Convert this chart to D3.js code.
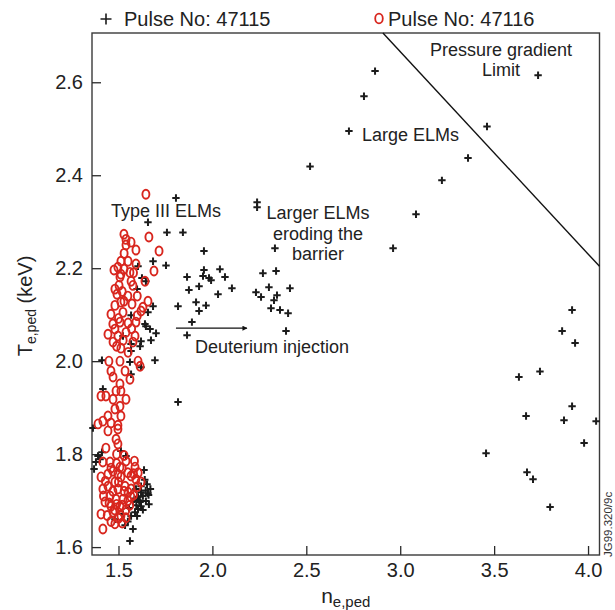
<!DOCTYPE html>
<html><head><meta charset="utf-8">
<script src="https://cdn.jsdelivr.net/npm/d3@7"></script>
<style>
body{margin:0;background:#fff}
svg{display:block;font-family:"Liberation Sans",Arial,Helvetica,sans-serif}
</style>
</head><body>
<svg id="chart" width="615" height="610"></svg>
<script>
// ---- data (n_e,ped , T_e,ped keV) ----
const pulse47115 = [
 [2.866,2.624],[2.807,2.570],[2.727,2.495],[2.520,2.419],[3.462,2.505],[3.734,2.615],[3.361,2.437],[3.222,2.389],[3.084,2.316],[2.962,2.243],
 [3.915,2.110],[3.862,2.065],[3.931,2.039],[3.744,1.978],[3.632,1.966],[3.915,1.903],[3.670,1.882],[3.872,1.873],[4.043,1.871],[3.979,1.824],[3.457,1.802],[3.675,1.761],[3.707,1.746],[3.798,1.686],
 [2.238,2.342],[2.238,2.331],[2.333,2.243],[2.269,2.189],[2.339,2.194],[2.413,2.157],[2.301,2.159],[2.232,2.148],[2.259,2.138],[2.344,2.142],[2.328,2.131],[2.312,2.114],[2.360,2.110],[2.403,2.103],[2.392,2.065],
 [1.806,2.351],[1.758,2.277],[1.843,2.277],[1.955,2.237],[1.753,2.206],[1.865,2.181],[1.950,2.183],[1.955,2.196],[1.982,2.179],[1.993,2.174],[2.040,2.198],[2.067,2.181],[1.875,2.153],[1.929,2.161],[2.104,2.157],[2.030,2.144],[1.817,2.118],[1.913,2.127],[1.929,2.108],[1.966,2.120],[1.891,2.084],[1.865,2.056],
 [1.657,2.299],[1.684,2.215],[1.604,2.204],[1.625,2.179],[1.646,2.172],[1.599,2.155],[1.684,2.118],[1.657,2.105],[1.567,2.099],[1.641,2.080],[1.646,2.075],[1.668,2.069],[1.700,2.060],[1.673,2.045],[1.524,2.054],[1.615,2.032],[1.567,2.037],[1.620,2.043],[1.567,2.022],[1.694,2.002],[1.561,1.998],[1.412,2.002],[1.620,1.987],[1.567,1.972],[1.417,1.940],[1.817,1.912],
 [1.364,1.856],[1.412,1.804],[1.380,1.783],[1.370,1.768],[1.391,1.796],[1.402,1.789],[1.513,1.807],[1.540,1.796],[1.636,1.766],[1.620,1.731],[1.593,1.725],[1.620,1.718],[1.604,1.708],[1.646,1.699],[1.577,1.699],[1.620,1.688],[1.604,1.682],[1.588,1.675],[1.556,1.684],[1.567,1.667],[1.524,1.671],[1.481,1.660],[1.535,1.647],[1.577,1.639],[1.561,1.613],[1.599,1.667],[1.615,1.697],[1.657,1.716],[1.662,1.692],[1.652,1.735],
 [1.630,1.710],[1.660,1.712],[1.640,1.745],[1.610,1.700],[1.595,1.690],[1.630,1.680],[1.670,1.725],[1.585,1.703],[1.550,1.655],[1.645,1.722]
];
const pulse47116 = [
 [1.646,2.359],[1.662,2.267],[1.529,2.273],[1.540,2.262],[1.567,2.256],[1.540,2.250],[1.593,2.239],[1.716,2.237],[1.689,2.194],[1.513,2.215],[1.551,2.215],[1.593,2.209],[1.476,2.196],[1.497,2.202],[1.513,2.187],[1.529,2.198],[1.561,2.191],[1.508,2.181],[1.567,2.172],[1.577,2.163],[1.641,2.172],[1.503,2.163],[1.481,2.155],[1.492,2.144],[1.529,2.129],[1.657,2.129],[1.572,2.123],[1.481,2.120],[1.630,2.116],[1.513,2.127],
 [1.460,2.101],[1.524,2.105],[1.620,2.108],[1.508,2.084],[1.551,2.082],[1.593,2.084],[1.481,2.069],[1.444,2.058],[1.497,2.054],[1.471,2.041],[1.588,2.054],[1.577,2.041],[1.513,2.028],[1.551,2.019],[1.508,2.000],[1.449,2.000],[1.604,2.000],[1.615,1.989],[1.535,1.979],[1.460,1.979],[1.471,1.966],[1.561,1.961],[1.508,1.951],[1.487,1.936],[1.513,1.936],[1.407,1.925],[1.433,1.925],[1.471,1.918],[1.540,1.918],[1.508,1.903],[1.481,1.897],[1.513,1.882],[1.444,1.882],[1.417,1.871],[1.391,1.865],[1.460,1.867],[1.497,1.862],[1.444,1.850],[1.497,1.854],[1.487,1.832],[1.497,1.822],[1.433,1.813],
 [1.417,1.783],[1.455,1.783],[1.471,1.763],[1.508,1.772],[1.540,1.785],[1.588,1.772],[1.593,1.746],[1.567,1.753],[1.407,1.751],[1.417,1.725],[1.444,1.731],[1.481,1.740],[1.513,1.751],[1.497,1.725],[1.535,1.731],[1.551,1.718],[1.455,1.710],[1.487,1.703],[1.524,1.703],[1.428,1.697],[1.460,1.688],[1.508,1.688],[1.407,1.671],[1.471,1.675],[1.513,1.667],[1.481,1.650],[1.417,1.639],[1.567,1.725],[1.444,1.757],[1.497,1.757],[1.567,1.708],
 [1.460,1.770],[1.490,1.780],[1.520,1.770],[1.550,1.760],[1.580,1.758],[1.600,1.730],[1.580,1.712],[1.550,1.700],[1.530,1.720],[1.500,1.740],[1.470,1.720],[1.430,1.742],[1.420,1.710],[1.450,1.695],[1.490,1.692],[1.520,1.690],[1.560,1.690],[1.540,1.680],[1.480,1.680],[1.440,1.668],[1.500,1.662],[1.460,1.655],[1.520,1.652],[1.540,1.663],[1.620,1.740],[1.605,1.760],[1.585,1.785],[1.530,1.797],[1.490,1.800],
 [1.500,2.092],[1.470,2.080],[1.540,2.062],[1.490,2.032],[1.525,2.045],[1.570,2.070],[1.600,2.098],[1.550,2.140],[1.520,2.150],[1.600,2.140],[1.580,2.190],[1.530,2.232]
];
const xTicks = [1.5, 2.0, 2.5, 3.0, 3.5, 4.0];
const yTicks = [1.6, 1.8, 2.0, 2.2, 2.4, 2.6];
const xDomain = [1.359, 4.061];
const yDomain = [1.583, 2.706];
const limitLine = [[2.908, 2.706], [4.061, 2.204]];
const injectionArrow = [[1.806, 2.071], [2.184, 2.071]];
const legendLabels = ["Pulse No: 47115", "Pulse No: 47116"];

// ---- layout ----
const W = 615, H = 610;
const m = {left: 92, right: 15.5, top: 33, bottom: 55};
const svg = d3.select("#chart");
const x = d3.scaleLinear().domain(xDomain).range([m.left, W - m.right]);
const y = d3.scaleLinear().domain(yDomain).range([H - m.bottom, m.top]);
const ink = "#2a2a2a";

// frame
svg.append("rect")
  .attr("x", m.left).attr("y", m.top)
  .attr("width", W - m.left - m.right).attr("height", H - m.top - m.bottom)
  .attr("fill", "none").attr("stroke", "#3a3a3a").attr("stroke-width", 1.4);

// axes
const gx = svg.append("g").attr("transform", `translate(0,${H - m.bottom})`)
  .call(d3.axisBottom(x).tickValues(xTicks).tickSize(-9).tickPadding(8).tickFormat(d3.format(".1f")));
const gy = svg.append("g").attr("transform", `translate(${m.left},0)`)
  .call(d3.axisLeft(y).tickValues(yTicks).tickSize(-9).tickPadding(9).tickFormat(d3.format(".1f")));
[gx, gy].forEach(g => {
  g.select(".domain").remove();
  g.selectAll(".tick line").attr("stroke", ink).attr("stroke-width", 1.3);
  g.selectAll(".tick text").attr("fill", "#222").attr("font-size", 20)
    .attr("font-family", '"Liberation Sans",Arial,sans-serif');
});

// axis titles
const xt = svg.append("text").attr("x", x.range().reduce((a,b)=>a+b)/2).attr("y", 603)
  .attr("text-anchor", "middle").attr("fill", "#222").attr("font-size", 21);
xt.append("tspan").text("n");
xt.append("tspan").attr("font-size", 15).attr("dy", 4).text("e,ped");

const yt = svg.append("text").attr("transform", "translate(32,306) rotate(-90)")
  .attr("text-anchor", "middle").attr("fill", "#222").attr("font-size", 20);
yt.append("tspan").text("T");
yt.append("tspan").attr("font-size", 14).attr("dy", 4).text("e,ped");
yt.append("tspan").attr("dy", -4).text(" (keV)");

// pressure gradient limit line
svg.append("path").datum(limitLine)
  .attr("d", d3.line().x(d => x(d[0])).y(d => y(d[1])))
  .attr("fill", "none").attr("stroke", "#111").attr("stroke-width", 1.4);

// deuterium injection arrow
svg.append("defs").append("marker").attr("id", "ah")
  .attr("viewBox", "0 0 10 10").attr("refX", 9).attr("refY", 5)
  .attr("markerWidth", 7).attr("markerHeight", 5).attr("markerUnits", "userSpaceOnUse")
  .attr("orient", "auto")
  .append("path").attr("d", "M0,0L10,5L0,10Z").attr("fill", "#111");
svg.append("path").datum(injectionArrow)
  .attr("d", d3.line().x(d => x(d[0])).y(d => y(d[1])))
  .attr("stroke", "#111").attr("stroke-width", 1.3).attr("marker-end", "url(#ah)");

// points
const cross = "M-3.7,0H3.7M0,-3.7V3.7";
svg.append("g").selectAll("path").data(pulse47115).join("path")
  .attr("transform", d => `translate(${x(d[0])},${y(d[1])})`)
  .attr("d", cross).attr("stroke", "#1c1c1c").attr("stroke-width", 2).attr("fill", "none");
svg.append("g").selectAll("ellipse").data(pulse47116).join("ellipse")
  .attr("cx", d => x(d[0])).attr("cy", d => y(d[1]))
  .attr("rx", 3.5).attr("ry", 4.5)
  .attr("fill", "none").attr("stroke", "#d8261e").attr("stroke-width", 1.9);

// annotations
const notes = [
  {t: "Type III ELMs", x: 111, y: 217, a: "start"},
  {t: "Larger ELMs", x: 318, y: 219, a: "middle"},
  {t: "eroding the", x: 318, y: 239.5, a: "middle"},
  {t: "barrier", x: 318, y: 260, a: "middle"},
  {t: "Deuterium injection", x: 195, y: 353, a: "start"},
  {t: "Large ELMs", x: 362, y: 141, a: "start"},
  {t: "Pressure gradient", x: 501, y: 56, a: "middle"},
  {t: "Limit", x: 501, y: 76, a: "middle"}
];
svg.append("g").selectAll("text").data(notes).join("text")
  .attr("x", d => d.x).attr("y", d => d.y).attr("text-anchor", d => d.a)
  .attr("font-size", 18).attr("fill", "#222").text(d => d.t);

// legend
const lg = svg.append("g");
lg.append("path").attr("transform", "translate(106,19)").attr("d", "M-5.5,0H5.5M0,-5.5V5.5")
  .attr("stroke", "#1c1c1c").attr("stroke-width", 1.6);
lg.append("text").attr("x", 124).attr("y", 26).attr("font-size", 20).attr("fill", "#222").text(legendLabels[0]);
lg.append("ellipse").attr("cx", 379).attr("cy", 18.5).attr("rx", 3.8).attr("ry", 4.8)
  .attr("fill", "none").attr("stroke", "#d8261e").attr("stroke-width", 1.8);
lg.append("text").attr("x", 388).attr("y", 26).attr("font-size", 20).attr("fill", "#222").text(legendLabels[1]);

// figure code
svg.append("text").attr("transform", "translate(612,557) rotate(-90)")
  .attr("font-size", 11.5).attr("fill", "#333").text("JG99.320/9c");
</script>
</body></html>
